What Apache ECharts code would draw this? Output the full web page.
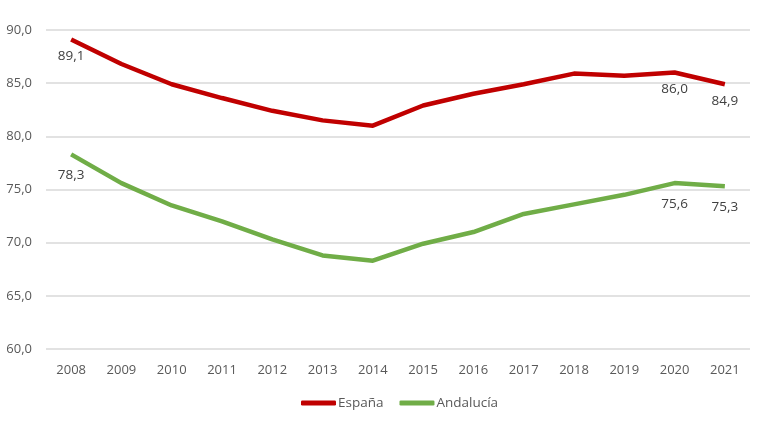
<!DOCTYPE html>
<html><head><meta charset="utf-8">
<script src="https://cdn.jsdelivr.net/npm/echarts@6/dist/echarts.min.js"></script>
<style>html,body{margin:0;padding:0;background:#fff}#c{width:768px;height:425px}</style>
</head><body><div id="c"></div>
<script>
const years = ['2008','2009','2010','2011','2012','2013','2014','2015','2016','2017','2018','2019','2020','2021'];
const espana = [89.1,86.8,84.9,83.6,82.4,81.5,81.0,82.9,84.0,84.9,85.9,85.7,86.0,84.9];
const andalucia = [78.3,75.6,73.5,72.0,70.3,68.8,68.3,69.9,71.0,72.7,73.6,74.5,75.6,75.3];
const labelIdx = [0,12,13];
const fmt = v => v.toFixed(1).replace('.', ',');
const font = '"Open Sans", "Liberation Sans", sans-serif';
function mk(name, data, color, dist){
  return {
    name, type:'line', data: data.map((v,i)=>({value:v, label:{show: labelIdx.includes(i)}})),
    symbol:'circle', symbolSize:0, showSymbol:true, lineStyle:{color, width:4.5}, itemStyle:{color},
    label:{position:'bottom', distance:dist, color:'#404040', fontSize:13.5, fontFamily:font, formatter:p=>fmt(p.value)},
    emphasis:{disabled:true}
  };
}
const chart = echarts.init(document.getElementById('c'));
chart.setOption({
  animation:false,
  grid:{left:46,right:18,top:30,bottom:76,containLabel:false},
  legend:{bottom:10,left:296,itemWidth:35,itemHeight:5,itemGap:16,icon:'roundRect',
    textStyle:{color:'#595959',fontSize:13.5,fontFamily:font,padding:[0,0,0,-3]}, data:['España','Andalucía']},
  xAxis:{type:'category',data:years,boundaryGap:true,
    axisLine:{show:false},axisTick:{show:false},
    axisLabel:{color:'#595959',fontSize:13,fontFamily:font,margin:15}},
  yAxis:{type:'value',min:60,max:90,interval:5,
    axisLine:{show:false},axisTick:{show:false},
    splitLine:{lineStyle:{color:'#d9d9d9',width:1.5}},
    axisLabel:{color:'#595959',fontSize:13,fontFamily:font,margin:14,formatter:v=>fmt(v)}},
  series:[mk('España',espana,'#C00000',10), mk('Andalucía',andalucia,'#70AD47',14)]
});
</script></body></html>
